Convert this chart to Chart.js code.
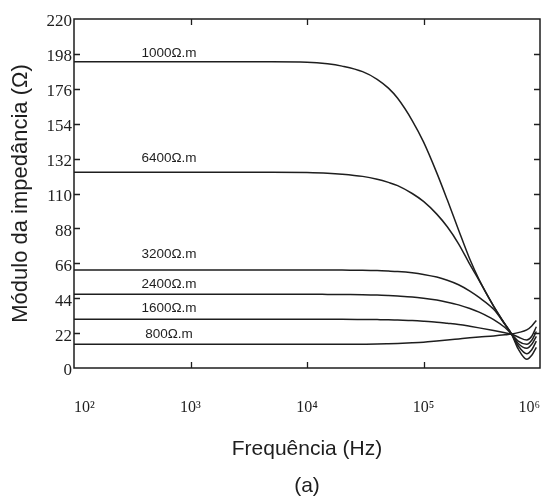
<!DOCTYPE html>
<html>
<head>
<meta charset="utf-8">
<script src="https://cdn.jsdelivr.net/npm/chart.js@4/dist/chart.umd.min.js"></script>
<style>
  html, body { margin: 0; padding: 0; background: #fff; }
  #wrap { width: 547px; height: 496px; }
</style>
</head>
<body>
<div id="wrap"><canvas id="c" width="547" height="496"></canvas></div>
<script>
// ---- data ----
const freqHz = [100, 1000, 5000, 10000, 15000, 20000, 30000, 40000, 50000, 60000, 80000, 100000,
                130000, 160000, 200000, 250000, 300000, 400000, 500000, 570000, 650000, 770000, 850000, 930000];
const seriesNames = ['1000Ω.m', '6400Ω.m', '3200Ω.m', '2400Ω.m', '1600Ω.m', '800Ω.m'];
const z1000 = [193, 193, 193, 192.8, 191.8, 190.3, 186.8, 182, 176.4, 170, 156, 142.5,
               123, 106, 87, 68.5, 55.7, 39, 27.8, 21.4, 12, 5.5, 8, 13];
const z6400 = [123.4, 123.4, 123.4, 123.2, 122.8, 122.2, 120.8, 119, 117, 115, 110, 105,
               97, 89, 78.3, 65.3, 55.2, 38.9, 27.6, 21.4, 14, 9, 11.5, 17];
const z3200 = [61.8, 61.8, 61.8, 61.8, 61.8, 61.7, 61.6, 61.4, 61.1, 60.8, 60, 59,
               57.3, 55.3, 52.5, 48.5, 44.5, 37, 27.5, 21.4, 15.5, 12.5, 15, 20];
const z2400 = [46.5, 46.5, 46.5, 46.5, 46.4, 46.3, 46.2, 46, 45.7, 45.4, 44.8, 44,
               42.8, 41.5, 39.8, 37.5, 35.2, 30.5, 25.5, 21.4, 17, 15, 17.5, 23];
const z1600 = [30.7, 30.7, 30.7, 30.7, 30.7, 30.7, 30.6, 30.5, 30.4, 30.2, 29.9, 29.5,
               28.9, 28.2, 27.4, 26.3, 25.3, 23.6, 22.2, 21.4, 19.5, 17.6, 20, 26];
const z800 = [14.9, 14.9, 14.9, 14.9, 14.9, 14.9, 15, 15.1, 15.3, 15.5, 15.9, 16.3,
              17, 17.6, 18.3, 19, 19.5, 20.2, 20.9, 21.4, 22.3, 24, 26.5, 30];
const seriesValues = [z1000, z6400, z3200, z2400, z1600, z800];
const xTickValues = [100, 1000, 10000, 100000, 1000000];
const xTickLabels = ['10²', '10³', '10⁴', '10⁵', '10⁶'];
const yTickValues = [0, 22, 44, 66, 88, 110, 132, 154, 176, 198, 220];
const xTitle = 'Frequência (Hz)';
const yTitle = 'Módulo da impedância (Ω)';
const panelLabel = '(a)';

// ---- styling (not data) ----
const INK = '#1e1e1e';
const labelLift = [9, 14, 16, 10, 11, 10.5];
const labelCenterPx = 169;

const datasets = seriesValues.map((vals, i) => ({
  label: seriesNames[i],
  data: freqHz.map((f, j) => ({ x: f, y: vals[j] })),
  borderColor: INK,
  borderWidth: 1.5,
  pointRadius: 0,
  fill: false,
  cubicInterpolationMode: 'monotone'
}));

const decor = {
  id: 'decor',
  afterDraw(chart) {
    const { ctx, chartArea: a, scales: { x, y } } = chart;
    ctx.save();
    ctx.strokeStyle = INK;
    ctx.lineWidth = 1.5;
    ctx.strokeRect(a.left, a.top, a.right - a.left, a.bottom - a.top);
    ctx.lineWidth = 1.3;
    const tl = 6;
    yTickValues.forEach(v => {
      if (v === y.min || v === y.max) return;
      const py = Math.round(y.getPixelForValue(v)) + 0.5;
      ctx.beginPath();
      ctx.moveTo(a.left, py); ctx.lineTo(a.left + tl, py);
      ctx.moveTo(a.right, py); ctx.lineTo(a.right - tl, py);
      ctx.stroke();
    });
    xTickValues.forEach(v => {
      if (v === x.min || v === x.max) return;
      const px = Math.round(x.getPixelForValue(v)) + 0.5;
      ctx.beginPath();
      ctx.moveTo(px, a.bottom); ctx.lineTo(px, a.bottom - tl);
      ctx.moveTo(px, a.top); ctx.lineTo(px, a.top + tl);
      ctx.stroke();
    });
    // series labels
    ctx.fillStyle = INK;
    ctx.font = '13.5px "Liberation Sans", Arial, sans-serif';
    ctx.textAlign = 'center';
    ctx.textBaseline = 'middle';
    seriesNames.forEach((name, i) => {
      const py = y.getPixelForValue(seriesValues[i][0]) - labelLift[i];
      ctx.fillText(name, labelCenterPx, py);
    });
    // panel label
    ctx.font = '21px "Liberation Sans", Arial, sans-serif';
    ctx.fillText(panelLabel, (a.left + a.right) / 2, 486);
    ctx.restore();
  }
};

new Chart(document.getElementById('c'), {
  type: 'line',
  data: { datasets },
  options: {
    responsive: false,
    animation: false,
    devicePixelRatio: 1,
    layout: { padding: { top: 19, right: 7, left: 0, bottom: 0 } },
    plugins: { legend: { display: false }, tooltip: { enabled: false }, title: { display: false } },
    scales: {
      x: {
        type: 'logarithmic',
        min: 100,
        max: 1000000,
        grid: { display: false, drawTicks: false },
        border: { display: false },
        afterBuildTicks(s) { s.ticks = xTickValues.map(v => ({ value: v })); },
        afterFit(s) { s.height = 128; s.paddingLeft = 0; s.paddingRight = 0; },
        ticks: {
          autoSkip: false,
          maxRotation: 0,
          align: 'inner',
          padding: 30,
          color: INK,
          font: { family: '"Liberation Serif", "Times New Roman", serif', size: 16 },
          callback(value) { const k = xTickValues.indexOf(value); return k >= 0 ? xTickLabels[k] : ''; }
        },
        title: {
          display: true,
          text: xTitle,
          color: INK,
          font: { family: '"Liberation Sans", Arial, sans-serif', size: 21 },
          padding: { top: 0, bottom: 34 }
        }
      },
      y: {
        type: 'linear',
        min: 0,
        max: 220,
        grid: { display: false, drawTicks: false },
        border: { display: false },
        afterBuildTicks(s) { s.ticks = yTickValues.map(v => ({ value: v })); },
        afterFit(s) { s.width = 74; s.paddingTop = 0; s.paddingBottom = 0; },
        ticks: {
          autoSkip: false,
          padding: 2,
          labelOffset: 3,
          color: INK,
          font: { family: '"Liberation Serif", "Times New Roman", serif', size: 17 },
          callback(value) { return String(value); }
        },
        title: {
          display: true,
          text: yTitle,
          color: INK,
          font: { family: '"Liberation Sans", Arial, sans-serif', size: 22 },
          padding: { top: 8, bottom: 0 }
        }
      }
    }
  },
  plugins: [decor]
});
</script>
</body>
</html>
